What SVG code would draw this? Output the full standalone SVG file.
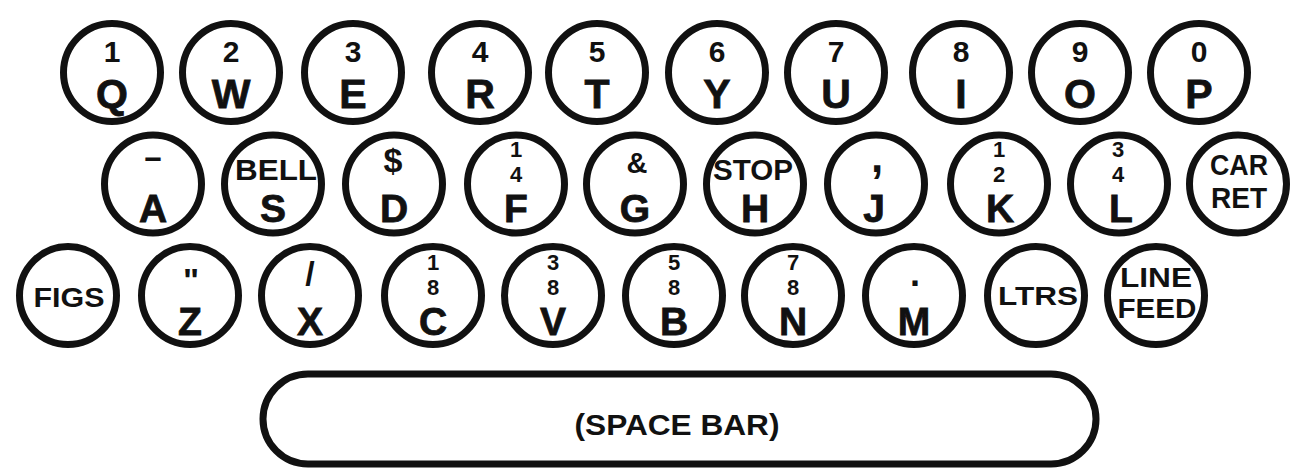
<svg xmlns="http://www.w3.org/2000/svg" width="1291" height="469" viewBox="0 0 1291 469">
<style>
.k{fill:none;stroke:#111;stroke-width:7}
.t{font-family:"Liberation Sans",Arial,sans-serif;font-weight:bold;text-anchor:middle;fill:#111}
.L{font-size:41px;stroke:#111;stroke-width:0.8}
.M{font-size:39px;stroke:#111;stroke-width:0.8}
.d{font-size:30px}
.f{font-size:22px}
.w{font-size:29px}
</style>
<rect x="0" y="0" width="1291" height="469" fill="#ffffff"/>
<g id="row1">
<g id="key-q"><ellipse class="k" cx="112" cy="72.5" rx="48.5" ry="49"/><text class="t"><tspan class="d" x="112" y="62">1</tspan><tspan class="L" x="112" y="108">Q</tspan></text></g>
<g id="key-w"><ellipse class="k" cx="231" cy="72.5" rx="48.5" ry="49"/><text class="t"><tspan class="d" x="231" y="62">2</tspan><tspan class="L" x="231" y="108">W</tspan></text></g>
<g id="key-e"><ellipse class="k" cx="353" cy="72.5" rx="48.5" ry="49"/><text class="t"><tspan class="d" x="353" y="62">3</tspan><tspan class="L" x="353" y="108">E</tspan></text></g>
<g id="key-r"><ellipse class="k" cx="480" cy="72.5" rx="48.5" ry="49"/><text class="t"><tspan class="d" x="480" y="62">4</tspan><tspan class="L" x="480" y="108">R</tspan></text></g>
<g id="key-t"><ellipse class="k" cx="597" cy="72.5" rx="48.5" ry="49"/><text class="t"><tspan class="d" x="597" y="62">5</tspan><tspan class="L" x="597" y="108">T</tspan></text></g>
<g id="key-y"><ellipse class="k" cx="717" cy="72.5" rx="48.5" ry="49"/><text class="t"><tspan class="d" x="717" y="62">6</tspan><tspan class="L" x="717" y="108">Y</tspan></text></g>
<g id="key-u"><ellipse class="k" cx="836" cy="72.5" rx="48.5" ry="49"/><text class="t"><tspan class="d" x="836" y="62">7</tspan><tspan class="L" x="836" y="108">U</tspan></text></g>
<g id="key-i"><ellipse class="k" cx="961" cy="72.5" rx="48.5" ry="49"/><text class="t"><tspan class="d" x="961" y="62">8</tspan><tspan class="L" x="961" y="108">I</tspan></text></g>
<g id="key-o"><ellipse class="k" cx="1080" cy="72.5" rx="48.5" ry="49"/><text class="t"><tspan class="d" x="1080" y="62">9</tspan><tspan class="L" x="1080" y="108">O</tspan></text></g>
<g id="key-p"><ellipse class="k" cx="1199" cy="72.5" rx="48.5" ry="49"/><text class="t"><tspan class="d" x="1199" y="62">0</tspan><tspan class="L" x="1199" y="108">P</tspan></text></g>
</g>
<g id="row2">
<g id="key-a"><ellipse class="k" cx="153" cy="184" rx="48.5" ry="49"/><text class="t d" x="153" y="167" textLength="20" lengthAdjust="spacingAndGlyphs">-</text><text class="t M" x="153" y="222">A</text></g>
<g id="key-s"><ellipse class="k" cx="273" cy="184" rx="48.5" ry="49"/><text class="t w" x="276" y="180" textLength="82" lengthAdjust="spacingAndGlyphs">BELL</text><text class="t M" x="273" y="222">S</text></g>
<g id="key-d"><ellipse class="k" cx="394" cy="184" rx="48.5" ry="49"/><text class="t"><tspan style="font-size:34px" x="393" y="172">$</tspan><tspan class="M" x="394" y="222">D</tspan></text></g>
<g id="key-f"><ellipse class="k" cx="516" cy="184" rx="48.5" ry="49"/><text class="t"><tspan class="f" x="516" y="156.5">1</tspan><tspan class="f" x="516" y="181.5">4</tspan><tspan class="M" x="516" y="222">F</tspan></text></g>
<g id="key-g"><ellipse class="k" cx="635" cy="184" rx="48.5" ry="49"/><text class="t"><tspan class="w" x="637" y="173">&amp;</tspan><tspan class="M" x="635" y="222">G</tspan></text></g>
<g id="key-h"><ellipse class="k" cx="755" cy="184" rx="48.5" ry="49"/><text class="t w" x="753" y="180" textLength="80" lengthAdjust="spacingAndGlyphs">STOP</text><text class="t M" x="755" y="222">H</text></g>
<g id="key-j"><ellipse class="k" cx="876" cy="184" rx="48.5" ry="49"/><text class="t"><tspan style="font-size:44px" x="877" y="172">,</tspan><tspan class="M" x="874" y="222">J</tspan></text></g>
<g id="key-k"><ellipse class="k" cx="999" cy="184" rx="48.5" ry="49"/><text class="t"><tspan class="f" x="999" y="156.5">1</tspan><tspan class="f" x="999" y="181.5">2</tspan><tspan class="M" x="1000" y="222">K</tspan></text></g>
<g id="key-l"><ellipse class="k" cx="1119" cy="184" rx="48.5" ry="49"/><text class="t"><tspan class="f" x="1118" y="156.5">3</tspan><tspan class="f" x="1118" y="181.5">4</tspan><tspan class="M" x="1121" y="222">L</tspan></text></g>
<g id="key-carret"><ellipse class="k" cx="1238" cy="184" rx="48.5" ry="49"/><text class="t" style="font-size:29px"><tspan x="1239" y="175" textLength="58" lengthAdjust="spacingAndGlyphs">CAR</tspan><tspan x="1239" y="207.5" textLength="56" lengthAdjust="spacingAndGlyphs">RET</tspan></text></g>
</g>
<g id="row3">
<g id="key-figs"><ellipse class="k" cx="68" cy="295.5" rx="48.5" ry="49"/><text class="t" style="font-size:27px" x="69" y="307" textLength="71" lengthAdjust="spacingAndGlyphs">FIGS</text></g>
<g id="key-z"><ellipse class="k" cx="190" cy="295.5" rx="48.5" ry="49"/><text class="t"><tspan style="font-size:34px" x="191" y="292">"</tspan><tspan class="M" x="190" y="335">Z</tspan></text></g>
<g id="key-x"><ellipse class="k" cx="310" cy="295.5" rx="48.5" ry="49"/><text class="t"><tspan style="font-size:34px" x="310" y="285">/</tspan><tspan class="M" x="310" y="335">X</tspan></text></g>
<g id="key-c"><ellipse class="k" cx="433" cy="295.5" rx="48.5" ry="49"/><text class="t"><tspan class="f" x="433" y="270">1</tspan><tspan class="f" x="433" y="294.5">8</tspan><tspan class="M" x="433" y="335">C</tspan></text></g>
<g id="key-v"><ellipse class="k" cx="553" cy="295.5" rx="48.5" ry="49"/><text class="t"><tspan class="f" x="553" y="270">3</tspan><tspan class="f" x="553" y="294.5">8</tspan><tspan class="M" x="553" y="335">V</tspan></text></g>
<g id="key-b"><ellipse class="k" cx="674" cy="295.5" rx="48.5" ry="49"/><text class="t"><tspan class="f" x="674" y="270">5</tspan><tspan class="f" x="674" y="294.5">8</tspan><tspan class="M" x="674" y="335">B</tspan></text></g>
<g id="key-n"><ellipse class="k" cx="793" cy="295.5" rx="48.5" ry="49"/><text class="t"><tspan class="f" x="793" y="270">7</tspan><tspan class="f" x="793" y="294.5">8</tspan><tspan class="M" x="793" y="335">N</tspan></text></g>
<g id="key-m"><ellipse class="k" cx="914" cy="295.5" rx="48.5" ry="49"/><text class="t"><tspan style="font-size:36px" x="915" y="286">.</tspan><tspan class="M" x="914" y="335">M</tspan></text></g>
<g id="key-ltrs"><ellipse class="k" cx="1036" cy="295.5" rx="48.5" ry="49"/><text class="t" style="font-size:26px" x="1038" y="305" textLength="80" lengthAdjust="spacingAndGlyphs">LTRS</text></g>
<g id="key-linefeed"><ellipse class="k" cx="1156" cy="295.5" rx="48.5" ry="49"/><text class="t" style="font-size:27px"><tspan x="1156" y="287" textLength="72" lengthAdjust="spacingAndGlyphs">LINE</tspan><tspan x="1157" y="318" textLength="79" lengthAdjust="spacingAndGlyphs">FEED</tspan></text></g>
</g>
<g id="key-space"><rect class="k" x="263" y="374" width="833" height="90" rx="45" ry="45"/><text class="t" style="font-size:29px" x="677" y="435" textLength="205" lengthAdjust="spacingAndGlyphs">(SPACE BAR)</text></g>
</svg>
